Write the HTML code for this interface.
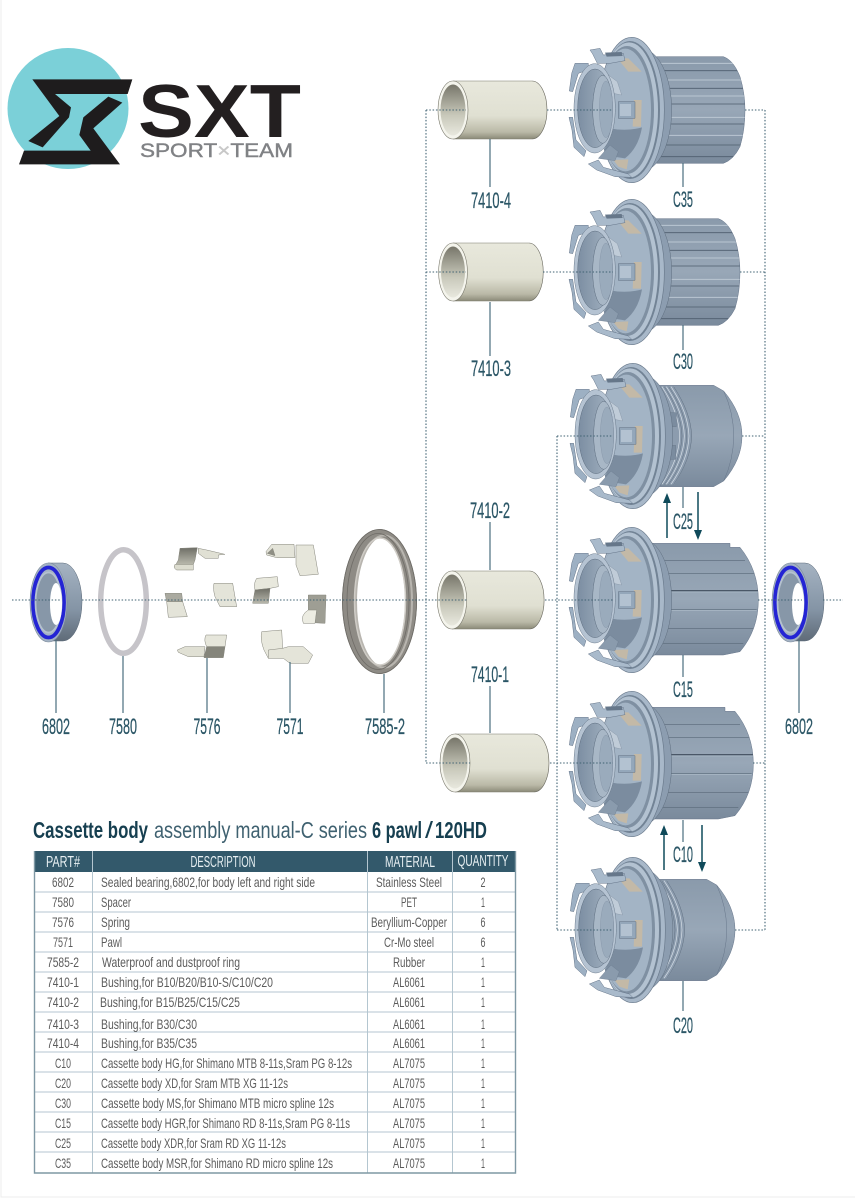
<!DOCTYPE html>
<html><head><meta charset="utf-8"><style>
html,body{margin:0;padding:0;background:#fff}
svg{display:block}
text{font-family:"Liberation Sans",sans-serif}
.l{font-size:22px;fill:#2b5666;stroke:#2b5666;stroke-width:.25;text-anchor:middle}
.t{font-size:14px;fill:#5c5c5c}
.c{font-size:14px;fill:#5c5c5c;text-anchor:middle}
.h{font-size:16px;fill:#e8f0f3;text-anchor:middle}
</style></head><body>
<svg xmlns="http://www.w3.org/2000/svg" width="855" height="1200" viewBox="0 0 855 1200">
<defs>
<linearGradient id="cream" x1="0" y1="0" x2="0" y2="1"><stop offset="0" stop-color="#e8e8dc"/><stop offset=".6" stop-color="#e0e0d2"/><stop offset=".88" stop-color="#bab9a7"/><stop offset="1" stop-color="#8b8a78"/></linearGradient>
<linearGradient id="hole" x1="0" y1="0" x2="0" y2="1"><stop offset="0" stop-color="#77766a"/><stop offset=".6" stop-color="#c8c8ba"/><stop offset="1" stop-color="#e8e8de"/></linearGradient>
<linearGradient id="steel" x1="0" y1="0" x2="0" y2="1"><stop offset="0" stop-color="#8a9aab"/><stop offset=".5" stop-color="#98a7b7"/><stop offset="1" stop-color="#7a8a9c"/></linearGradient>
<linearGradient id="bear" x1="0" y1="0" x2="0" y2="1"><stop offset="0" stop-color="#a5b3c2"/><stop offset=".6" stop-color="#8494a5"/><stop offset="1" stop-color="#5f6b78"/></linearGradient>
<linearGradient id="holeS" x1="0" y1="0" x2="1" y2="0"><stop offset="0" stop-color="#7c8ea2"/><stop offset="1" stop-color="#a5b4c3"/></linearGradient>
<linearGradient id="darkS" x1="0" y1="0" x2="0" y2="1"><stop offset="0" stop-color="#6e6e66"/><stop offset="1" stop-color="#b8b8ac"/></linearGradient>
<clipPath id="cpSp"><path d="M290 80 L490 80 Q520 90 540 140 Q555 190 555 240 Q555 300 540 350 Q520 390 490 400 L290 400 Z"/></clipPath>
<clipPath id="cpHg"><path d="M270 70 L510 70 L510 82 L540 82 Q595 150 595 240 Q595 330 540 395 L490 405 L270 405 Z"/></clipPath>

<g id="head" transform="translate(560,-80) scale(.33333)">
 <ellipse cx="245" cy="240" rx="90" ry="183" fill="#8c9db0" stroke="#5e6d7e" stroke-width="1.500"/>
 <ellipse cx="215" cy="240" rx="98" ry="218" fill="#a8b8c9" stroke="#6a7a8c" stroke-width="2"/>
 <ellipse cx="210" cy="240" rx="90" ry="207" fill="#728395"/>
 <ellipse cx="207" cy="240" rx="87" ry="203" fill="#b3c2d1"/>
 <ellipse cx="201" cy="240" rx="81" ry="192" fill="#7f90a2"/>
 <ellipse cx="196" cy="240" rx="77" ry="184" fill="#a3b4c5"/>
 <path d="M150 295 Q200 305 246 292 Q235 355 195 385 L130 375 Z" fill="#7b8c9f"/>
 <path d="M172 85 L205 85 L245 125 L205 125 Z M222 210 L245 210 L243 290 L218 290 Z M160 390 L205 388 L200 418 L175 410 Z" fill="#c3b9a7"/>
 <path d="M90 60 L120 55 L130 75 L190 70 L195 92 L150 100 L112 100 L98 72 Z" fill="#a9bacb" stroke="#65758a" stroke-width="1.500"/>
 <path d="M135 68 L185 66 L188 78 L140 80 Z" fill="#66778a"/>
 <path d="M85 402 L115 390 L130 412 L205 432 L215 442 L165 440 L110 420 Z" fill="#a9bacb" stroke="#65758a" stroke-width="1.500"/>
 <path d="M115 385 L150 345 L175 365 L165 392 Z" fill="#8a9bad" stroke="#65758a" stroke-width="1"/>
 <path d="M45 100 L85 100 L85 120 L55 130 L38 185 L28 183 L35 130 Z" fill="#9db0c3" stroke="#65758a" stroke-width="1.500"/>
 <path d="M27 262 L38 262 L48 330 L78 362 L72 380 L42 352 L36 300 Z" fill="#9db0c3" stroke="#65758a" stroke-width="1.500"/>
 <path d="M145 135 L172 155 L185 195 L160 190 Z" fill="#c0ccd8" stroke="#7a8a9c" stroke-width="1"/>
 <ellipse cx="104" cy="235" rx="62" ry="134" fill="#b5c3d2" stroke="#6a7a8c" stroke-width="1.500"/>
 <ellipse cx="105" cy="235" rx="52" ry="118" fill="url(#holeS)" stroke="#5d6d80" stroke-width="1.500"/>
 <ellipse cx="128" cy="238" rx="30" ry="102" fill="#a8b7c6" stroke="#5d6d80" stroke-width="1.500"/>
 <ellipse cx="138" cy="238" rx="20" ry="85" fill="#9aabbc" stroke="#7e8ea1" stroke-width="1"/>
 <path d="M175 215 L225 215 L225 265 L175 265 Z" fill="#94a7ba" stroke="#5f6f82" stroke-width="1.500"/>
 <path d="M180 222 L213 222 L213 258 L180 258 Z" fill="#b3c2d1"/>
</g>

<g id="spline" transform="translate(560,-80) scale(.33333)">
 <path d="M290 80 L490 80 Q520 90 540 140 Q555 190 555 240 Q555 300 540 350 Q520 390 490 400 L290 400 Z" fill="url(#steel)" stroke="#65748a" stroke-width="1.500"/>
 <g clip-path="url(#cpSp)">
  <path d="M300 122 H560 M300 175 H560 M300 222 H560 M300 282 H560 M300 345 H560 M300 380 H560" stroke="#4e5d6e" stroke-width="2.500" fill="none"/>
  <path d="M300 100 H560 M300 150 H560 M300 198 H560 M300 262 H560 M300 316 H560" stroke="#bac6d2" stroke-width="3" fill="none"/>
 </g>
</g>

<g id="threaded" transform="translate(560,-80) scale(.33333)">
 <path d="M270 88 L440 88 L470 105 Q525 170 525 240 Q525 310 470 375 L440 392 L270 392 Z" fill="url(#steel)" stroke="#65748a" stroke-width="1.500"/>
 <path d="M470 105 Q500 170 500 240 Q500 310 470 375" fill="none" stroke="#66758a" stroke-width="1.500"/>
 <path d="M270 92 L322 92 Q372 170 374 240 Q372 310 322 385 L270 385 Z" fill="#8c9cae"/>
 <g fill="none" stroke="#d8e0e8" stroke-width="2"><path d="M285 92 Q336 170 338 240 Q336 310 285 385"/><path d="M298 92 Q350 170 352 240 Q350 310 298 385"/><path d="M312 92 Q364 170 366 240 Q364 310 312 385"/></g>
 <g fill="none" stroke="#5f6e80" stroke-width="1.500"><path d="M292 92 Q343 170 345 240 Q343 310 292 385"/><path d="M305 92 Q357 170 359 240 Q357 310 305 385"/><path d="M320 92 Q372 170 374 240 Q372 310 320 385"/></g>
 <path d="M290 170 L328 170 L328 212 L290 212 Z M290 268 L326 268 L326 310 L290 310 Z" fill="#7b8c9f" stroke="#5f6e80"/>
</g>

<g id="hg" transform="translate(560,-80) scale(.33333)">
 <path d="M270 70 L510 70 L510 82 L540 82 Q595 150 595 240 Q595 330 540 395 L490 405 L270 405 Z" fill="url(#steel)" stroke="#65748a" stroke-width="1.500"/>
 <g clip-path="url(#cpHg)" fill="none">
  <path d="M280 122 H555 M320 160 H590 M320 268 H590 M280 325 H580 M280 370 H550" stroke="#5a697a" stroke-width="2"/>
  <path d="M300 212 H595" stroke="#3f4c5c" stroke-width="3.500"/>
  <path d="M300 216 H595 M320 272 H590" stroke="#b8c5d2" stroke-width="1.500"/>
  <path d="M300 165 L322 165 L325 208 L300 208 Z M300 275 L322 275 L325 320 L300 320 Z" fill="#a7b7c7" stroke="none"/>
 </g>
</g>

<g id="bearing">
 <path d="M48 563 H63 A19 39 0 0 1 63 641 H48 Z" fill="url(#bear)" stroke="#5d6b7a" stroke-width=".5"/>
 <ellipse cx="48.500" cy="602.500" rx="18.500" ry="39.500" fill="#a3b2c4" stroke="#7c8a9a" stroke-width=".6"/>
 <ellipse cx="48.500" cy="602.500" rx="15.500" ry="35" fill="none" stroke="#2424d4" stroke-width="3.800"/>
 <ellipse cx="48.500" cy="602.500" rx="13" ry="30" fill="#8797a8" stroke="#b4c1cf" stroke-width="1.800"/>
 <ellipse cx="56" cy="604" rx="6" ry="21" fill="#fff"/>
</g>

<g id="bush">
 <path d="M0 -29 L79 -29 A15 29 0 0 1 79 29 L0 29 Z" fill="url(#cream)"/>
 <path d="M79 -29 A15 29 0 0 1 79 29" fill="none" stroke="#65645a" stroke-width=".6"/>
 <path d="M0 -29 H79 M0 29 H79" stroke="#7b7a6c" stroke-width=".6"/>
 <ellipse cx="0" cy="0" rx="15" ry="29" fill="#f4f4ec" stroke="#77766a" stroke-width=".6"/>
 <ellipse cx="0" cy="0" rx="12.500" ry="25.500" fill="url(#hole)"/>
</g>
</defs>

<rect width="855" height="1200" fill="#fff"/>
<path d="M1 0 V1197 H855" fill="none" stroke="#ececec"/>

<!-- logo -->
<circle cx="68" cy="108.500" r="60.500" fill="#7bd0d8"/>
<g transform="translate(0,30) scale(.33333)" fill="#1e1c1d">
 <path d="M97 148 L397 148 L383 192 L165 192 L213 232 L207 262 L128 352 L85 333 L178 258 Z"/>
 <path d="M325 200 L367 218 L280 295 L360 403 L57 403 L72 362 L272 362 L238 315 L250 262 Z"/>
</g>
<text x="138" y="137" font-size="75" font-weight="bold" fill="#231f20" textLength="163" lengthAdjust="spacingAndGlyphs">SXT</text>
<text x="140" y="157" font-size="19" fill="#808285" stroke="#808285" stroke-width=".4" textLength="153" lengthAdjust="spacingAndGlyphs">SPORT<tspan fill="#c8c8c8" stroke="#c8c8c8">×</tspan>TEAM</text>

<!-- C35 -->
<g transform="translate(0,110)"><use href="#spline"/><use href="#head"/></g>
<!-- C30 -->
<g transform="translate(0,272)"><use href="#spline" transform="translate(-5,0)"/><use href="#head"/></g>
<!-- C25 -->
<g transform="translate(1,436)"><use href="#threaded" transform="translate(6,0)"/><use href="#head"/></g>
<!-- C15 -->
<g transform="translate(0,600)"><use href="#hg"/><use href="#head"/></g>
<!-- C10 -->
<g transform="translate(0,764)"><use href="#hg" transform="translate(-5,0)"/><use href="#head"/></g>
<!-- C20 -->
<g transform="translate(1,930)"><use href="#threaded" transform="translate(-1,0)"/><use href="#head"/></g>

<!-- bushings -->
<use href="#bush" transform="translate(453,110)"/>
<use href="#bush" transform="translate(453,272) scale(.96,1)"/>
<use href="#bush" transform="translate(452,600) scale(.98,1)"/>
<use href="#bush" transform="translate(455,763)"/>

<!-- bearings -->
<use href="#bearing"/>
<use href="#bearing" transform="translate(742,0)"/>

<!-- spacer -->
<ellipse cx="123.500" cy="601.500" rx="22.800" ry="51.800" fill="none" stroke="#c6c4c9" stroke-width="5.500"/>

<!-- seal -->
<path fill-rule="evenodd" d="M342 601.500 A37.500 72.500 0 1 0 417 601.500 A37.500 72.500 0 1 0 342 601.500 Z M355 601.500 A25 63 0 1 1 405 601.500 A25 63 0 1 1 355 601.500 Z" fill="#8e8b85"/>
<ellipse cx="384" cy="601.500" rx="28" ry="66" fill="none" stroke="#b8b5af" stroke-width="2"/>
<ellipse cx="379.500" cy="601.500" rx="37" ry="72" fill="none" stroke="#6c6a65" stroke-width=".8"/>
<ellipse cx="380" cy="601.500" rx="25.500" ry="63.500" fill="none" stroke="#cfccc6" stroke-width="1.500"/>
<ellipse cx="378" cy="601.500" rx="31" ry="68" fill="none" stroke="#6f6c67" stroke-width=".8"/>

<!-- springs & pawls -->
<g transform="translate(160,535) scale(.33333)" stroke="#85857a" stroke-width="1.500" stroke-linejoin="round">
 <path d="M60 40 L112 38 L105 75 L100 88 L48 88 L55 75 Z" fill="url(#darkS)"/>
 <path d="M45 88 L100 88 L100 105 L50 105 Q38 98 45 88 Z" fill="#dcdccf"/>
 <path d="M115 40 L140 45 L195 58 L175 60 L175 70 L135 70 L115 55 Z" fill="#e0e0d4"/>
 <path d="M15 175 L65 175 L68 200 L20 200 Z" fill="#aaaaa0"/>
 <path d="M20 200 L68 200 L82 245 L25 247 Z" fill="#e4e4d9"/>
 <path d="M162 145 L218 145 L230 215 L180 215 L165 185 Q158 160 162 145 Z" fill="#e4e4d9"/>
 <path d="M290 130 L352 125 L355 155 L330 160 L285 165 Q280 145 290 130 Z" fill="#e8e8dd"/>
 <path d="M285 165 L330 160 L325 205 L278 205 Z" fill="url(#darkS)"/>
 <path d="M445 180 L498 180 L495 265 L440 262 L445 225 Z" fill="#9e9e94"/>
 <path d="M445 225 L470 225 L465 265 L430 265 Q420 240 445 225 Z" fill="#ecece2"/>
 <path d="M138 300 L200 300 L195 335 L140 335 Q130 315 138 300 Z" fill="#e6e6db"/>
 <path d="M140 335 L195 335 L190 368 L132 368 Z" fill="#85857b"/>
 <path d="M52 345 L75 335 L135 335 L132 365 L85 365 L55 352 Z" fill="#e0e0d4"/>
 <path d="M318 50 L335 28 L402 28 L405 68 L350 68 L320 60 Z" fill="#e4e4d9"/>
 <path d="M322 55 L338 40 L345 62 Z" fill="#8f8f85"/>
 <path d="M408 30 L460 30 L475 118 L420 122 L408 90 Z" fill="#e6e6db"/>
 <path d="M305 290 L365 285 L368 340 L325 370 L312 345 Q300 315 305 290 Z" fill="#e8e8dd"/>
 <path d="M325 345 L368 340 L385 335 L430 335 L458 360 L445 385 L390 385 L370 370 L325 370 Z" fill="#e4e4d9"/>
</g>

<!-- dotted -->
<g fill="none" stroke="#3f6272" stroke-width="1.100" stroke-dasharray="1.500 1.800">
 <path d="M12 600 H60 M82 600 H467 M545 600 H613 M758 600 H802 M823 600 H843"/>
 <path d="M426 110 V763"/><path d="M765 110 V930"/><path d="M557 436 V930"/>
 <path d="M426 110 H466 M547 110 H613 M745 110 H765"/>
 <path d="M426 272 H466 M543 272 H613 M740 272 H765"/>
 <path d="M557 436 H613 M742 436 H765"/>
 <path d="M426 763 H470 M550 763 H613 M753 763 H765"/>
 <path d="M557 930 H613 M735 930 H765"/>
</g>

<!-- leaders -->
<g stroke="#4b6f7e" stroke-width="1.200" fill="none">
 <path d="M490 139 V187 M490 302 V356 M490 522 V570 M490 686 V733"/>
 <path d="M683 163 V187 M683 325 V350 M683 487 V508 M683 655 V677 M683 820 V842 M683 981 V1011"/>
 <path d="M56 640 V713 M123 656 V713 M207 658 V713 M290 662 V713 M384 674 V713 M799 640 V713"/>
</g>

<!-- arrows -->
<g stroke="#0f4a5a" stroke-width="1.500" fill="#0f4a5a">
 <path d="M667 538 V500"/><path d="M667 493 L663 503 H671 Z" stroke="none"/>
 <path d="M698 492 V532"/><path d="M698 540 L694 530 H702 Z" stroke="none"/>
 <path d="M664 870 V832"/><path d="M664 825 L660 835 H668 Z" stroke="none"/>
 <path d="M702 825 V864"/><path d="M702 872 L698 862 H706 Z" stroke="none"/>
</g>

<!-- part labels -->
<text class="l" x="56" y="734" textLength="28" lengthAdjust="spacingAndGlyphs">6802</text>
<text class="l" x="123" y="734" textLength="28" lengthAdjust="spacingAndGlyphs">7580</text>
<text class="l" x="207" y="734" textLength="27" lengthAdjust="spacingAndGlyphs">7576</text>
<text class="l" x="290" y="734" textLength="27" lengthAdjust="spacingAndGlyphs">7571</text>
<text class="l" x="385" y="734" textLength="40" lengthAdjust="spacingAndGlyphs">7585-2</text>
<text class="l" x="799" y="734" textLength="28" lengthAdjust="spacingAndGlyphs">6802</text>
<text class="l" x="491" y="208" textLength="40" lengthAdjust="spacingAndGlyphs">7410-4</text>
<text class="l" x="491" y="376" textLength="40" lengthAdjust="spacingAndGlyphs">7410-3</text>
<text class="l" x="490" y="518" textLength="40" lengthAdjust="spacingAndGlyphs">7410-2</text>
<text class="l" x="490" y="682" textLength="38" lengthAdjust="spacingAndGlyphs">7410-1</text>
<text class="l" x="683" y="207" textLength="20" lengthAdjust="spacingAndGlyphs">C35</text>
<text class="l" x="683" y="369" textLength="20" lengthAdjust="spacingAndGlyphs">C30</text>
<text class="l" x="683" y="529" textLength="20" lengthAdjust="spacingAndGlyphs">C25</text>
<text class="l" x="683" y="697" textLength="20" lengthAdjust="spacingAndGlyphs">C15</text>
<text class="l" x="683" y="862" textLength="20" lengthAdjust="spacingAndGlyphs">C10</text>
<text class="l" x="683" y="1033" textLength="20" lengthAdjust="spacingAndGlyphs">C20</text>

<!-- title -->
<g font-size="23">
<text x="33" y="838" font-weight="bold" fill="#163f50" textLength="115" lengthAdjust="spacingAndGlyphs">Cassette body</text>
<text x="154" y="838" fill="#3f6170" textLength="213" lengthAdjust="spacingAndGlyphs">assembly manual-C series</text>
<text x="372" y="838" font-weight="bold" fill="#163f50" textLength="50" lengthAdjust="spacingAndGlyphs">6 pawl</text>
<text x="425" y="838" fill="#163f50" textLength="8" lengthAdjust="spacingAndGlyphs">/</text>
<text x="435" y="838" font-weight="bold" fill="#163f50" textLength="52" lengthAdjust="spacingAndGlyphs">120HD</text>
</g>

<!-- table -->
<rect x="34" y="851" width="482" height="21" fill="#33596b"/>
<g fill="none" stroke="#b4c6d0" stroke-width="1">
 <path d="M92.500 851 V1173 M367.500 851 V1173 M452.500 851 V1173"/>
 <path d="M34 892 H516 M34 912 H516 M34 932 H516 M34 952 H516 M34 972 H516 M34 992 H516 M34 1012 H516 M34 1032 H516 M34 1052 H516 M34 1072 H516 M34 1092 H516 M34 1112 H516 M34 1132 H516 M34 1152 H516"/>
</g>
<path d="M34.500 851 V1173 H515.500 V851" fill="none" stroke="#7f98a4" stroke-width="1.400"/>
<text class="h" x="63" y="867" textLength="34" lengthAdjust="spacingAndGlyphs">PART#</text>
<text class="h" x="223" y="867" textLength="65" lengthAdjust="spacingAndGlyphs">DESCRIPTION</text>
<text class="h" x="410" y="867" textLength="50" lengthAdjust="spacingAndGlyphs">MATERIAL</text>
<text class="h" x="483" y="866" textLength="51" lengthAdjust="spacingAndGlyphs">QUANTITY</text>

<text class="c" x="63" y="887" textLength="22" lengthAdjust="spacingAndGlyphs">6802</text><text class="t" x="101" y="887" textLength="214" lengthAdjust="spacingAndGlyphs">Sealed bearing,6802,for body left and right side</text><text class="c" x="409" y="887" textLength="66" lengthAdjust="spacingAndGlyphs">Stainless Steel</text><text class="c" x="483" y="887" textLength="5" lengthAdjust="spacingAndGlyphs">2</text>
<text class="c" x="63" y="907" textLength="22" lengthAdjust="spacingAndGlyphs">7580</text><text class="t" x="101" y="907" textLength="30" lengthAdjust="spacingAndGlyphs">Spacer</text><text class="c" x="409" y="907" textLength="16" lengthAdjust="spacingAndGlyphs">PET</text><text class="c" x="483" y="907" textLength="4" lengthAdjust="spacingAndGlyphs">1</text>
<text class="c" x="63" y="927" textLength="22" lengthAdjust="spacingAndGlyphs">7576</text><text class="t" x="101" y="927" textLength="29" lengthAdjust="spacingAndGlyphs">Spring</text><text class="c" x="409" y="927" textLength="76" lengthAdjust="spacingAndGlyphs">Beryllium-Copper</text><text class="c" x="483" y="927" textLength="5" lengthAdjust="spacingAndGlyphs">6</text>
<text class="c" x="63" y="947" textLength="20" lengthAdjust="spacingAndGlyphs">7571</text><text class="t" x="101" y="947" textLength="21" lengthAdjust="spacingAndGlyphs">Pawl</text><text class="c" x="409" y="947" textLength="50" lengthAdjust="spacingAndGlyphs">Cr-Mo steel</text><text class="c" x="483" y="947" textLength="5" lengthAdjust="spacingAndGlyphs">6</text>
<text class="c" x="63" y="967" textLength="32" lengthAdjust="spacingAndGlyphs">7585-2</text><text class="t" x="102" y="967" textLength="138" lengthAdjust="spacingAndGlyphs">Waterproof and dustproof ring</text><text class="c" x="409" y="967" textLength="32" lengthAdjust="spacingAndGlyphs">Rubber</text><text class="c" x="483" y="967" textLength="4" lengthAdjust="spacingAndGlyphs">1</text>
<text class="c" x="63" y="987" textLength="32" lengthAdjust="spacingAndGlyphs">7410-1</text><text class="t" x="101" y="987" textLength="172" lengthAdjust="spacingAndGlyphs">Bushing,for B10/B20/B10-S/C10/C20</text><text class="c" x="409" y="987" textLength="32" lengthAdjust="spacingAndGlyphs">AL6061</text><text class="c" x="483" y="987" textLength="4" lengthAdjust="spacingAndGlyphs">1</text>
<text class="c" x="63" y="1007" textLength="32" lengthAdjust="spacingAndGlyphs">7410-2</text><text class="t" x="100" y="1007" textLength="140" lengthAdjust="spacingAndGlyphs">Bushing,for B15/B25/C15/C25</text><text class="c" x="409" y="1007" textLength="32" lengthAdjust="spacingAndGlyphs">AL6061</text><text class="c" x="483" y="1007" textLength="4" lengthAdjust="spacingAndGlyphs">1</text>
<text class="c" x="63" y="1029" textLength="32" lengthAdjust="spacingAndGlyphs">7410-3</text><text class="t" x="101" y="1029" textLength="96" lengthAdjust="spacingAndGlyphs">Bushing,for B30/C30</text><text class="c" x="409" y="1029" textLength="32" lengthAdjust="spacingAndGlyphs">AL6061</text><text class="c" x="483" y="1029" textLength="4" lengthAdjust="spacingAndGlyphs">1</text>
<text class="c" x="63" y="1048" textLength="32" lengthAdjust="spacingAndGlyphs">7410-4</text><text class="t" x="101" y="1048" textLength="96" lengthAdjust="spacingAndGlyphs">Bushing,for B35/C35</text><text class="c" x="409" y="1048" textLength="32" lengthAdjust="spacingAndGlyphs">AL6061</text><text class="c" x="483" y="1048" textLength="4" lengthAdjust="spacingAndGlyphs">1</text>
<text class="c" x="63" y="1068" textLength="16" lengthAdjust="spacingAndGlyphs">C10</text><text class="t" x="101" y="1068" textLength="251" lengthAdjust="spacingAndGlyphs">Cassette body HG,for Shimano MTB 8-11s,Sram PG 8-12s</text><text class="c" x="409" y="1068" textLength="32" lengthAdjust="spacingAndGlyphs">AL7075</text><text class="c" x="483" y="1068" textLength="4" lengthAdjust="spacingAndGlyphs">1</text>
<text class="c" x="63" y="1088" textLength="16" lengthAdjust="spacingAndGlyphs">C20</text><text class="t" x="101" y="1088" textLength="187" lengthAdjust="spacingAndGlyphs">Cassette body XD,for Sram MTB XG 11-12s</text><text class="c" x="409" y="1088" textLength="32" lengthAdjust="spacingAndGlyphs">AL7075</text><text class="c" x="483" y="1088" textLength="4" lengthAdjust="spacingAndGlyphs">1</text>
<text class="c" x="63" y="1108" textLength="16" lengthAdjust="spacingAndGlyphs">C30</text><text class="t" x="101" y="1108" textLength="233" lengthAdjust="spacingAndGlyphs">Cassette body MS,for Shimano MTB micro spline 12s</text><text class="c" x="409" y="1108" textLength="32" lengthAdjust="spacingAndGlyphs">AL7075</text><text class="c" x="483" y="1108" textLength="4" lengthAdjust="spacingAndGlyphs">1</text>
<text class="c" x="63" y="1128" textLength="16" lengthAdjust="spacingAndGlyphs">C15</text><text class="t" x="101" y="1128" textLength="249" lengthAdjust="spacingAndGlyphs">Cassette body HGR,for Shimano RD 8-11s,Sram PG 8-11s</text><text class="c" x="409" y="1128" textLength="32" lengthAdjust="spacingAndGlyphs">AL7075</text><text class="c" x="483" y="1128" textLength="4" lengthAdjust="spacingAndGlyphs">1</text>
<text class="c" x="63" y="1148" textLength="16" lengthAdjust="spacingAndGlyphs">C25</text><text class="t" x="101" y="1148" textLength="185" lengthAdjust="spacingAndGlyphs">Cassette body XDR,for Sram RD XG 11-12s</text><text class="c" x="409" y="1148" textLength="32" lengthAdjust="spacingAndGlyphs">AL7075</text><text class="c" x="483" y="1148" textLength="4" lengthAdjust="spacingAndGlyphs">1</text>
<text class="c" x="63" y="1168" textLength="16" lengthAdjust="spacingAndGlyphs">C35</text><text class="t" x="101" y="1168" textLength="232" lengthAdjust="spacingAndGlyphs">Cassette body MSR,for Shimano RD micro spline 12s</text><text class="c" x="409" y="1168" textLength="32" lengthAdjust="spacingAndGlyphs">AL7075</text><text class="c" x="483" y="1168" textLength="4" lengthAdjust="spacingAndGlyphs">1</text>
</svg>
</body></html>
